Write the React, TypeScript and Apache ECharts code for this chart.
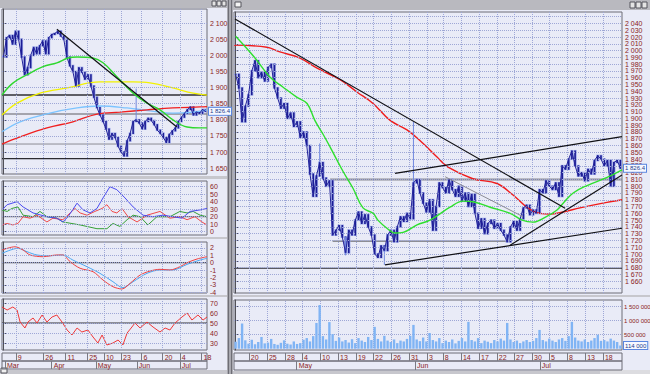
import React, { useEffect, useRef } from 'react';
import * as echarts from 'echarts';

// ---------------- LEFT WINDOW (daily) ----------------
const leftCloses = [
  1995, 2055, 2062, 2035, 2075, 2050, 1995, 1940, 1962, 2000,
  2025, 2005, 2030, 2045, 2005, 2055, 2065, 2068, 2075, 2060,
  2050, 1995, 1968, 1950, 1905, 1962, 1948, 1926, 1940, 1905,
  1870, 1838, 1815, 1795, 1772, 1740, 1758, 1745, 1718, 1700,
  1688, 1735, 1758, 1795, 1800, 1790, 1772, 1795, 1805, 1798,
  1785, 1768, 1758, 1745, 1730, 1755, 1766, 1775, 1795, 1808,
  1820, 1832, 1840, 1815, 1825, 1820, 1832, 1826.4,
];
const leftSpikes = [[44, 1800, 1897]];
const leftGreenMA = [[-0.5, 1877], [3.1, 1914], [7.8, 1940], [13.1, 1965], [17.7, 1977], [21.4, 1992], [24.4, 1995], [29.7, 1992], [33, 1977], [37.6, 1934], [43, 1883], [47.6, 1852], [51.9, 1831], [56.2, 1800], [60.9, 1778], [65.2, 1775], [67.5, 1775]];
const leftYellowMA = [[-0.5, 1815], [4.5, 1852], [12.1, 1883], [21.1, 1899], [32, 1918], [43, 1918], [48.6, 1915], [56.2, 1899], [62.9, 1883], [67.5, 1877]];
const leftBlueMA = [[-0.5, 1763], [5.5, 1794], [15.4, 1821], [24.4, 1837], [32, 1843], [41, 1837], [48.6, 1828], [56.2, 1821], [62.9, 1824], [67.5, 1831]];
const leftRedMA = [[-0.5, 1725], [5.5, 1747], [14.4, 1775], [23, 1794], [31, 1818], [38.6, 1824], [47.6, 1831], [56.2, 1837], [65.2, 1840], [67.5, 1841]];
const leftTrendLine = [[17.7, 2081], [57.5, 1778]];
const leftLevelDark = 1877;
const leftLevelGray = 1818;
const leftLevelThin = 1725;
const leftLevelBlack = 1680;
const leftPriceTicks = [1650, 1700, 1750, 1800, 1850, 1900, 1950, 2000, 2050, 2100];
const leftDateTicks = [4.1, 13.2, 20.6, 27.8, 33.3, 39.0, 45.8, 52.8, 58.5, 65.7];
const leftDateLabels = ['9', '26', '11', '25', '10', '23', '6', '20', '4', '18'];
const leftMonthTicks = [0.5, 16.0, 30.6, 44.2, 58.5];
const leftMonthLabels = ['Mar', 'Apr', 'May', 'Jun', 'Jul'];

const adxBlue = [[-0.5, 29], [1.2, 36], [4.5, 40], [6.5, 33], [9.8, 25], [14.4, 20], [17.7, 18], [19.7, 13], [21.4, 20], [24.4, 38], [26.4, 29], [28.7, 25], [31, 31], [33, 45], [35.3, 60], [37.6, 56], [40.3, 45], [43, 33], [46.3, 22], [49.6, 20], [52.9, 22], [56.2, 20], [59.2, 18], [61.9, 27], [65.2, 29], [67.5, 31]];
const adxRed = [[-0.5, 9], [1.2, 11], [3.1, 9], [4.8, 11], [6.5, 20], [8.8, 18], [11.1, 22], [14.4, 13], [16.4, 18], [19.7, 16], [22.1, 25], [23.7, 31], [25.4, 25], [27.7, 22], [30.3, 27], [32.7, 31], [34.3, 36], [36, 27], [37.6, 25], [39.3, 31], [41.3, 20], [44.3, 13], [47.6, 22], [51.9, 27], [55.2, 18], [58.5, 20], [60.9, 16], [63.5, 20], [65.8, 13], [67.5, 9]];
const adxGreen = [[-0.5, 29], [1.2, 27], [2.8, 31], [4.8, 33], [6.5, 22], [9.8, 20], [12.1, 27], [14.4, 20], [17.7, 18], [19.7, 13], [25.4, 9], [31, 4], [34.3, 4], [36.3, 11], [38.6, 7], [41, 16], [43, 22], [45.3, 20], [47.9, 9], [50.9, 20], [55.2, 20], [58.5, 27], [60.9, 25], [62.9, 27], [65.2, 22], [67.5, 20]];
const adxTicks = [0, 10, 20, 30, 40, 50, 60];
const adxLevel = 20;

const macdSignal = [[-0.5, 1.26], [4.8, 1.94], [7.8, 1.48], [11.1, 1.04], [15.4, 0.94], [19.7, 1.04], [23, 0.36], [27.7, -0.54], [32, -1.43], [36.3, -2.56], [39.6, -3.36], [43, -2.56], [47.6, -1.43], [51.9, -0.98], [56.2, -0.98], [60.9, -0.22], [65.2, 0.36], [67.5, 0.59]];
const macdLine = [[-0.5, 1.71], [3.8, 2.15], [6.5, 1.71], [8.8, 1.04], [13.1, 0.81], [17.7, 1.04], [19.7, 1.04], [22.1, 0.13], [25.4, -0.75], [29.7, -1.21], [33, -2.33], [36.3, -3.23], [39.3, -3.54], [42, -2.77], [45.3, -1.66], [48.6, -1.12], [51.9, -0.89], [55.2, -0.98], [58.5, -0.54], [60.9, 0], [64.2, 0.5], [67.5, 0.81]];
const macdTicks = [-4, -3, -2, -1, 0, 1, 2];

const rsiLine = [[-0.5, 66], [1.2, 63], [3.1, 66], [4.5, 63], [5.5, 51], [7.1, 45], [8.1, 51], [9.8, 55], [11.1, 50], [12.8, 58], [14.4, 51], [16.1, 56], [17.7, 58], [19.4, 51], [21.1, 43], [22.7, 38], [24.4, 45], [26, 41], [28, 43], [29.7, 36], [31.3, 30], [32.7, 38], [34.3, 28], [36.3, 30], [38, 33], [39.6, 28], [41, 40], [42.6, 46], [43.6, 50], [45.3, 45], [47.6, 51], [49.6, 46], [51.9, 41], [53.6, 45], [55.2, 43], [56.9, 50], [59.2, 56], [60.9, 60], [62.5, 53], [64.5, 58], [66.2, 53], [67.5, 56]];
const rsiTicks = [30, 40, 50, 60, 70];
const rsiLevel = 50;

// ---------------- RIGHT WINDOW (intraday) ----------------
const rightCloses = [
  1965, 1945, 1895, 1918, 1935, 1970, 1985, 1960, 1968, 1955,
  1975, 1980, 1945, 1930, 1915, 1922, 1900, 1908, 1888, 1895,
  1872, 1880, 1860, 1818, 1785, 1815, 1835, 1812, 1800, 1808,
  1728, 1735, 1742, 1725, 1702, 1735, 1728, 1750, 1762, 1745,
  1758, 1740, 1728, 1700, 1695, 1712, 1705, 1728, 1735, 1718,
  1740, 1755, 1748, 1760, 1752, 1805, 1810, 1790, 1775, 1762,
  1780, 1735, 1770, 1805, 1798, 1790, 1810, 1795, 1785, 1800,
  1778, 1790, 1770, 1788, 1760, 1738, 1752, 1730, 1745, 1750,
  1738, 1745, 1735, 1728, 1718, 1740, 1748, 1735, 1752, 1768,
  1772, 1758, 1765, 1760, 1795, 1790, 1808, 1800, 1795, 1805,
  1785, 1830, 1825, 1840, 1852, 1830, 1815, 1820, 1808, 1825,
  1818, 1838, 1845, 1840, 1830, 1838, 1800, 1835, 1838, 1826.4,
];
const rightSpikes = [[55, 1805, 1895], [46, 1684, 1712], [26, 1835, 1863], [34, 1698, 1725]];
const rightGreenMA = [[0, 2021], [6, 1989], [10.6, 1961], [14.7, 1946], [19, 1931], [22.1, 1922], [24.5, 1897], [27, 1877], [29.2, 1858], [33.2, 1822], [36.3, 1797], [39.4, 1768], [42.5, 1760], [44, 1750], [46.8, 1738], [49.3, 1731], [51.8, 1732], [56.1, 1743], [60.1, 1750], [66.3, 1769], [70.3, 1778], [73.4, 1777], [78.7, 1769], [84.9, 1760], [88.6, 1750], [92, 1747], [95.7, 1754], [99.4, 1765], [101.3, 1775], [104.4, 1790], [108.7, 1801], [114.9, 1813], [119.5, 1824]];
const rightRedMA = [[-0.5, 2008], [9.7, 2005], [13.7, 1998], [19.9, 1989], [25.2, 1974], [32.3, 1957], [37.5, 1939], [42.5, 1922], [47.8, 1897], [53, 1883], [58, 1863], [62.3, 1843], [65.7, 1828], [73.4, 1811], [80.8, 1804], [85.8, 1787], [90.1, 1769], [94.1, 1760], [97.2, 1759], [101.3, 1762], [106.5, 1768], [113.6, 1775], [119.5, 1780]];
const rightDownTrend = [[-0.2, 2046.6], [101.9, 1767.5]];
const rightGrayTrend = [[64.8, 1814], [88.9, 1755]];
const rightUpperChannel = [[49.3, 1819], [119.5, 1873]];
const rightLowerChannel = [[46.2, 1684], [119.5, 1738]];
const rightSteepTrend = [[84.9, 1713], [119.5, 1816.5]];
const rightLevelGray = [[29.2, 1810], [119.5, 1810]];
const rightLevelDark = [[30, 1719], [84.9, 1719]];
const rightLevelBlack = [[-0.5, 1679], [119.5, 1679]];
const rightPriceTicks = [
  1650, 1660, 1670, 1680, 1690, 1700, 1710, 1720, 1730, 1740, 1750, 1760, 1770, 1780,
  1790, 1800, 1810, 1820, 1830, 1840, 1850, 1860, 1870, 1880, 1890, 1900, 1910, 1920,
  1930, 1940, 1950, 1960, 1970, 1980, 1990, 2000, 2010, 2020, 2030, 2040, 2050,
];
const rightVolumesK = [
  250, 380, 900, 300, 180, 320, 160, 240, 420, 190,
  220, 350, 170, 140, 210, 300, 180, 150, 260, 170,
  200, 320, 380, 260, 450, 920, 1560, 450, 330, 950,
  520, 280, 400, 260, 310, 220, 340, 200, 380, 290,
  240, 420, 310, 780, 350, 260, 460, 290, 240, 330,
  200, 290, 260, 350, 460, 850, 330, 270, 400, 260,
  560, 310, 260, 380, 200, 290, 240, 330, 190, 280,
  380, 260, 960, 310, 260, 380, 200, 290, 250, 200,
  310, 260, 360, 290, 920, 330, 240, 290, 200, 260,
  310, 240, 280, 380, 670, 310, 260, 360, 290, 240,
  330, 380, 280, 450, 960, 400, 290, 260, 330, 240,
  290, 380, 500, 280, 310, 260, 360, 290, 240, 114,
];
const volumeTicksK = [500, 1000, 1500];
const rightDateTicks = [4.1, 9.7, 15.3, 20.5, 26.1, 31.7, 37.2, 42.5, 48.1, 53.6, 59.2, 64.1, 69.7, 75.3, 80.8, 86.1, 91.7, 96.9, 102.5, 108.1, 113.6];
const rightDateLabels = ['20', '25', '28', '4', '10', '13', '19', '22', '26', '31', '3', '8', '14', '17', '22', '27', '30', '5', '8', '13', '18'];
const rightMonthTicks = [18.9, 55.5, 94.1];
const rightMonthLabels = ['May', 'Jun', 'Jul'];

// ---------------- styling ----------------
const FONT = "'Liberation Sans', Arial, sans-serif";
const LABEL = '#8a2222';
const GRIDLINE = '#9ea7d6';
const PANEL = '#e9ebf7';
const CHROME = '#c7c7cd';
const L_MIN = -0.5, L_MAX = 67.5;
const R_MIN = -0.5, R_MAX = 119.5;

const spaced = (v: number, dec = 0) => {
  const neg = v < 0;
  const [i, f] = Math.abs(v).toFixed(dec).split('.');
  return (neg ? '-' : '') + i.replace(/\B(?=(\d{3})+(?!\d))/g, ' ') + (f ? '.' + f : '');
};

const ln = (gi: number, data: any[], color: string, width = 1, smooth: any = false, z = 3, extra: any = {}) => ({
  type: 'line', xAxisIndex: gi, yAxisIndex: gi, data, symbol: 'none', showSymbol: false,
  smooth, lineStyle: { color, width }, silent: true, z, animation: false, ...extra,
});

const gridLines = (gi: number, xs: number[], ys: number[], color: string, type: string) => ({
  type: 'line', xAxisIndex: gi, yAxisIndex: gi, data: [], silent: true, z: 1,
  markLine: {
    symbol: ['none', 'none'], silent: true, animation: false, label: { show: false },
    lineStyle: { color, type, width: 1 },
    data: [...xs.map((v) => ({ xAxis: v })), ...ys.map((v) => ({ yAxis: v }))],
  },
});

const boxMark = (value: number, text: string, fontSize = 6) => ({
  symbol: ['none', 'none'], silent: true, animation: false,
  lineStyle: { color: 'rgba(0,0,0,0)', width: 0 },
  label: {
    show: true, position: 'end', distance: 2, formatter: text, fontSize, fontFamily: FONT,
    color: '#1b3b8c', backgroundColor: '#f6f8ff', borderColor: '#5a86e0', borderWidth: 1, padding: [1, 1, 0, 1],
  },
  data: [{ yAxis: value }],
});

const priceBars = (gi: number, closes: number[], halo: number, w: number) => ({
  type: 'custom', xAxisIndex: gi, yAxisIndex: gi, silent: true, z: 3, clip: true,
  encode: { x: 0, y: [1, 2] },
  data: closes.map((c, i) => {
    const p = i > 0 ? closes[i - 1] : c;
    return [i, Math.min(p, c), Math.max(p, c)];
  }),
  renderItem: (_params: any, api: any) => {
    const top = api.coord([api.value(0), api.value(2)]);
    const bot = api.coord([api.value(0), api.value(1)]);
    return {
      type: 'group',
      children: [
        { type: 'rect', shape: { x: top[0] - halo / 2, y: top[1] - 1, width: halo, height: bot[1] - top[1] + 2 }, style: { fill: '#9eaaea' } },
        { type: 'line', shape: { x1: top[0], y1: top[1] - 0.5, x2: bot[0], y2: bot[1] + 0.5 }, style: { stroke: '#1c1c94', lineWidth: w } },
      ],
    };
  },
});

const grids = [
  { left: 2, top: 9, width: 205, height: 165 },
  { left: 2, top: 181, width: 205, height: 54 },
  { left: 2, top: 242, width: 205, height: 51 },
  { left: 2, top: 299, width: 205, height: 51 },
  { left: 2, top: 353, width: 205, height: 8 },
  { left: 2, top: 361, width: 205, height: 8 },
  { left: 234, top: 12, width: 388, height: 281 },
  { left: 234, top: 300, width: 388, height: 50 },
  { left: 234, top: 353, width: 388, height: 8 },
  { left: 234, top: 361, width: 388, height: 9 },
];

const stripAxis = (gi: number, ticks: number[], labels: string[], min: number, max: number) => ({
  type: 'value', gridIndex: gi, min, max, position: 'top', z: 3,
  axisLine: { show: false }, axisTick: { show: false }, splitLine: { show: false },
  axisLabel: {
    show: true, inside: true, margin: 1, align: 'left', verticalAlign: 'top', padding: [0, 0, 0, 2],
    fontSize: 7, fontFamily: FONT, color: LABEL, customValues: ticks,
    formatter: (v: number) => { const k = ticks.indexOf(v); return k >= 0 ? labels[k] : ''; },
  },
});

const hiddenX = (gi: number, min: number, max: number) => ({ type: 'value', gridIndex: gi, min, max, show: false });

const valueY = (gi: number, min: number, max: number, ticks: number[], fmt: (v: number) => string, fontSize = 7, margin = 3) => ({
  type: 'value', gridIndex: gi, min, max, position: 'right', z: 3,
  axisLine: { show: true, lineStyle: { color: '#505058', width: 1 } },
  axisTick: { show: true, length: 3, customValues: ticks, lineStyle: { color: '#505058' } },
  splitLine: { show: false },
  axisLabel: { customValues: ticks, formatter: fmt, color: LABEL, fontSize, fontFamily: FONT, margin },
});
const hiddenY = (gi: number) => ({ type: 'value', gridIndex: gi, min: 0, max: 1, show: false });

const rect = (x: number, y: number, width: number, height: number, fill: string, z = -10, stroke?: string) => ({
  type: 'rect', z, silent: true, shape: { x, y, width, height },
  style: stroke ? { fill, stroke, lineWidth: 1 } : { fill },
});
const vline = (x: number, y1: number, y2: number, stroke: string, z = -9) => ({
  type: 'line', z, silent: true, shape: { x1: x, y1, x2: x, y2 }, style: { stroke, lineWidth: 1 },
});

export default function App() {
  const ref = useRef<HTMLDivElement>(null);
  useEffect(() => {
    if (!ref.current) return;
    const chart = echarts.init(ref.current, undefined, { renderer: 'svg' });
    const lastL = leftCloses[leftCloses.length - 1];
    const lastR = rightCloses[rightCloses.length - 1];
    const lastV = rightVolumesK[rightVolumesK.length - 1];

    const series: any[] = [
      gridLines(0, leftDateTicks, leftPriceTicks, GRIDLINE, 'dotted'),
      gridLines(1, leftDateTicks, adxTicks, GRIDLINE, 'dotted'),
      gridLines(2, leftDateTicks, macdTicks, GRIDLINE, 'dotted'),
      gridLines(3, leftDateTicks, rsiTicks, GRIDLINE, 'dotted'),
      gridLines(4, leftDateTicks, [], '#7a7a84', 'solid'),
      gridLines(5, leftMonthTicks, [], '#7a7a84', 'solid'),
      gridLines(6, rightDateTicks, rightPriceTicks, GRIDLINE, 'dotted'),
      gridLines(7, rightDateTicks, volumeTicksK, GRIDLINE, 'dotted'),
      gridLines(8, rightDateTicks, [], '#7a7a84', 'solid'),
      gridLines(9, rightMonthTicks, [], '#7a7a84', 'solid'),

      ln(0, [[L_MIN, leftLevelDark], [L_MAX, leftLevelDark]], '#5e5e66', 2, false, 2),
      ln(0, [[L_MIN, leftLevelGray], [L_MAX, leftLevelGray]], '#8c8c94', 1.5, false, 2),
      ln(0, [[L_MIN, leftLevelThin], [L_MAX, leftLevelThin]], '#8c8c94', 1, false, 2),
      ln(0, [[L_MIN, leftLevelBlack], [L_MAX, leftLevelBlack]], '#2a2a30', 1.2, false, 2),
      ln(0, leftYellowMA, '#f2f200', 1.3, 0.4),
      ln(0, leftBlueMA, '#7cc4ff', 1.3, 0.4),
      ln(0, leftRedMA, '#f02020', 1.3, 0.4),
      ...leftSpikes.map((s) => ln(0, [[s[0], s[1]], [s[0], s[2]]], '#7088e0', 1, false, 3)),
      priceBars(0, leftCloses, 3, 1.5),
      ln(0, leftCloses.map((c, i) => [i, c]), '#22229a', 1, false, 5, { markLine: boxMark(lastL, spaced(lastL, 1)) }),
      ln(0, leftGreenMA, '#2ed82e', 1.4, 0.4, 5),
      ln(0, leftTrendLine, '#101014', 1.2, false, 6),

      ln(1, [[L_MIN, adxLevel], [L_MAX, adxLevel]], '#55555c', 1, false, 2),
      ln(1, adxGreen, '#35a035', 1),
      ln(1, adxRed, '#f04848', 1),
      ln(1, adxBlue, '#4a4af0', 1),

      ln(2, [[L_MIN, 0], [L_MAX, 0]], '#303036', 1, false, 2),
      ln(2, macdSignal, '#4aa6f0', 1, 0.3),
      ln(2, macdLine, '#f04040', 1, 0.3),

      ln(3, [[L_MIN, rsiLevel], [L_MAX, rsiLevel]], '#303036', 1, false, 2),
      ln(3, rsiLine, '#f03838', 1),

      ln(6, rightLevelBlack, '#2a2a30', 1.2, false, 2),
      ln(6, rightLevelGray, '#8c8c94', 2, false, 2),
      ln(6, rightLevelDark, '#55555c', 1, false, 2),
      ln(6, rightRedMA, '#f01c1c', 1.4, 0.4, 3),
      ...rightSpikes.map((s) => ln(6, [[s[0], s[1]], [s[0], s[2]]], '#7088e0', 1, false, 3)),
      priceBars(6, rightCloses, 3.2, 1.6),
      ln(6, rightCloses.map((c, i) => [i, c]), '#22229a', 1, false, 5, { markLine: boxMark(lastR, spaced(lastR, 1)) }),
      ln(6, rightGreenMA, '#2ee02e', 1.4, 0.4, 5),
      ln(6, rightGrayTrend, '#8c8c94', 1, false, 6),
      ln(6, rightDownTrend, '#101014', 1.2, false, 6),
      ln(6, rightUpperChannel, '#101014', 1.2, false, 6),
      ln(6, rightLowerChannel, '#101014', 1.2, false, 6),
      ln(6, rightSteepTrend, '#101014', 1.2, false, 6),

      {
        type: 'bar', xAxisIndex: 7, yAxisIndex: 7, silent: true, z: 5, barWidth: 2.4,
        data: rightVolumesK.map((v, i) => [i, v]),
        itemStyle: { color: '#80b4f4' },
        markLine: boxMark(lastV, spaced(lastV * 1000), 6),
      },
    ];

    const option: any = {
      animation: false,
      backgroundColor: CHROME,
      textStyle: { fontFamily: FONT },
      grid: grids.map((g) => ({
        ...g, show: true, z: 0, backgroundColor: 'transparent', borderColor: '#6c6c76', borderWidth: 1,
        containLabel: false, outerBoundsMode: 'none',
      })),
      xAxis: [
        hiddenX(0, L_MIN, L_MAX), hiddenX(1, L_MIN, L_MAX), hiddenX(2, L_MIN, L_MAX), hiddenX(3, L_MIN, L_MAX),
        stripAxis(4, leftDateTicks, leftDateLabels, L_MIN, L_MAX),
        stripAxis(5, leftMonthTicks, leftMonthLabels, L_MIN, L_MAX),
        hiddenX(6, R_MIN, R_MAX), hiddenX(7, R_MIN, R_MAX),
        stripAxis(8, rightDateTicks, rightDateLabels, R_MIN, R_MAX),
        stripAxis(9, rightMonthTicks, rightMonthLabels, R_MIN, R_MAX),
      ],
      yAxis: [
        valueY(0, 1632, 2144, leftPriceTicks, (v) => spaced(v)),
        valueY(1, -4.4, 67.6, adxTicks, (v) => String(v)),
        valueY(2, -4.08, 2.79, macdTicks, (v) => String(v)),
        valueY(3, 23, 74, rsiTicks, (v) => String(v)),
        hiddenY(4), hiddenY(5),
        valueY(6, 1642.5, 2056.9, rightPriceTicks, (v) => spaced(v)),
        valueY(7, -46, 1739, volumeTicksK, (v) => spaced(v * 1000), 6, 2),
        hiddenY(8), hiddenY(9),
      ],
      graphic: {
        elements: [
          rect(0, 8, 227, 168, PANEL),
          rect(0, 179, 227, 58, PANEL),
          rect(0, 239, 227, 56, PANEL),
          rect(0, 297, 227, 55, PANEL),
          rect(0, 352, 227, 18, PANEL),
          rect(233, 10, 417, 285, PANEL),
          rect(233, 297, 417, 55, PANEL),
          rect(233, 352, 417, 19, PANEL),
          rect(0, 0, 227, 8, '#b9b9bf'),
          rect(233, 0, 417, 10, '#b9b9bf'),
          rect(235, 2, 6, 5, '#f4f4f4', -9, '#55555c'),
          rect(212, 1, 4, 5, '#e4e4e4', -9, '#55555c'),
          rect(217, 1, 4, 5, '#e4e4e4', -9, '#55555c'),
          rect(222, 1, 4, 5, '#e4e4e4', -9, '#55555c'),
          rect(630, 2, 5, 6, '#e4e4e4', -9, '#55555c'),
          rect(636, 2, 5, 6, '#e4e4e4', -9, '#55555c'),
          rect(642, 2, 5, 6, '#e4e4e4', -9, '#55555c'),
          rect(227, 0, 6, 374, '#a9a9b0'),
          vline(228.5, 0, 374, '#6e6e76'),
          vline(231.5, 0, 374, '#6e6e76'),
          rect(1, 368, 6, 5, '#f0f0f0', -9, '#55555c'),
          rect(600, 370, 50, 4, '#dcdce0', -9),
        ],
      },
      series,
    };
    chart.setOption(option);
    return () => chart.dispose();
  }, []);
  return <div ref={ref} style={{ position: 'fixed', left: 0, top: 0, width: 650, height: 374 }} />;
}
